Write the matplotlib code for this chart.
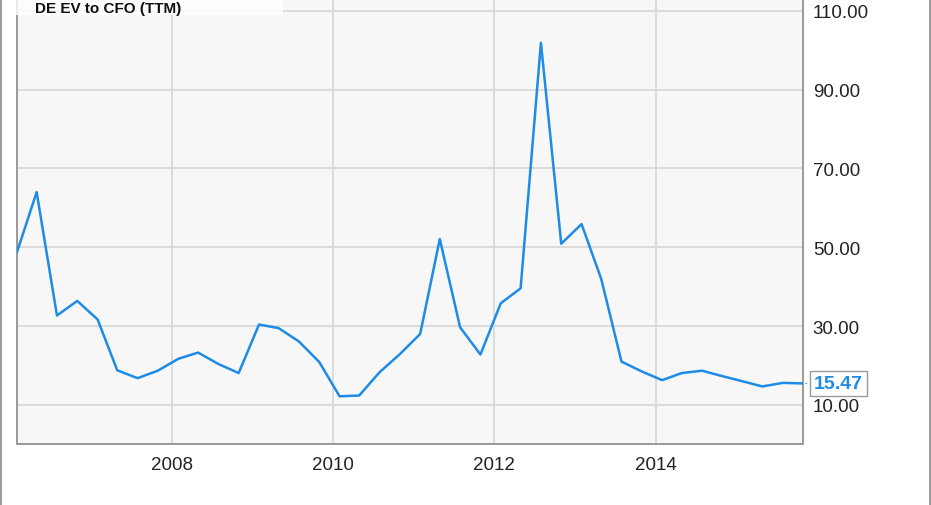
import pandas as pd
import matplotlib
matplotlib.use("Agg")
import matplotlib.pyplot as plt
import matplotlib.dates as mdates
from matplotlib.patches import Rectangle
from matplotlib.lines import Line2D

# Data: DE EV to CFO (TTM), quarterly (fiscal quarter ends)
title = "DE EV to CFO (TTM)"
quarter_ends = pd.date_range("2006-01-31", periods=40, freq="3ME")
ev_ratio = [48.8, 64.0, 32.7, 36.4,
            31.7, 18.8, 16.8, 18.7,
            21.7, 23.3, 20.4, 18.1,
            30.4, 29.5, 26.1, 20.9,
            12.2, 12.4, 18.3, 22.9,
            28.0, 52.1, 29.7, 22.8,
            35.8, 39.6, 101.9, 50.9,
            55.9, 42.0, 21.0, 18.5,
            16.3, 18.1, 18.7, 17.3,
            16.0, 14.7, 15.6, 15.47]
y_ticks = [10, 30, 50, 70, 90, 110]

blue = "#1e8ce6"
plt.rcParams["font.family"] = ["Liberation Sans", "DejaVu Sans"]

fig = plt.figure(figsize=(9.31, 5.06), dpi=100)
ax = fig.add_axes([17 / 931, 1 - 445 / 506, 786 / 931, 445 / 506])
ax.set_facecolor("#f7f7f7")

# Main line
ax.plot(quarter_ends, ev_ratio, color=blue, linewidth=1.8, zorder=3)

# Axes limits and ticks
ax.set_xlim(quarter_ends[0], quarter_ends[-1])
ax.set_ylim(0.1, 113)
ax.xaxis.set_major_locator(mdates.YearLocator(2))
ax.xaxis.set_major_formatter(mdates.DateFormatter("%Y"))
ax.set_yticks(y_ticks)
ax.set_yticklabels([f"{v:.2f}" for v in y_ticks])
ax.yaxis.tick_right()
ax.tick_params(axis="both", length=0, labelsize=13.5, colors="#222222")
ax.tick_params(axis="x", pad=9)
ax.tick_params(axis="y", pad=7)

# Grid
ax.grid(True, color="#d8d8d8", linewidth=1.3)
ax.set_axisbelow(True)

# Spines
ax.spines["top"].set_visible(False)
for side in ["left", "bottom"]:
    ax.spines[side].set_color("#9a9a9a")
    ax.spines[side].set_linewidth(1.4)
ax.spines["right"].set_color("#8a8a8a")
ax.spines["right"].set_linewidth(1.2)

# Last value label
ax.annotate(f"{ev_ratio[-1]:.2f}",
            xy=(quarter_ends[-1], ev_ratio[-1]),
            xytext=(8, 0), textcoords="offset points",
            va="center", ha="left",
            color=blue, fontsize=14, fontweight="bold",
            bbox=dict(boxstyle="square,pad=0.22", facecolor="white",
                      edgecolor="#9a9a9a", linewidth=1),
            arrowprops=dict(arrowstyle="-", color="#9a9a9a", linewidth=1),
            annotation_clip=False, zorder=5)

# Title box at the top left
fig.add_artist(Rectangle((10 / 931, 1 - 16 / 506), 273 / 931, 16 / 506,
                         transform=fig.transFigure, facecolor="white",
                         alpha=0.8, edgecolor="none", zorder=4))
fig.text(35 / 931, 1 - 2 / 506, title, fontsize=11, fontweight="bold",
         color="#111111", va="top", ha="left", zorder=5)

# Outer border lines
fig.add_artist(Line2D([0.5 / 931, 0.5 / 931], [0, 1], color="#8a8a8a",
                      linewidth=1.2, transform=fig.transFigure))
fig.add_artist(Line2D([929.5 / 931, 929.5 / 931], [0, 1], color="#8a8a8a",
                      linewidth=1.2, transform=fig.transFigure))

fig.savefig("out.png", dpi=100)
